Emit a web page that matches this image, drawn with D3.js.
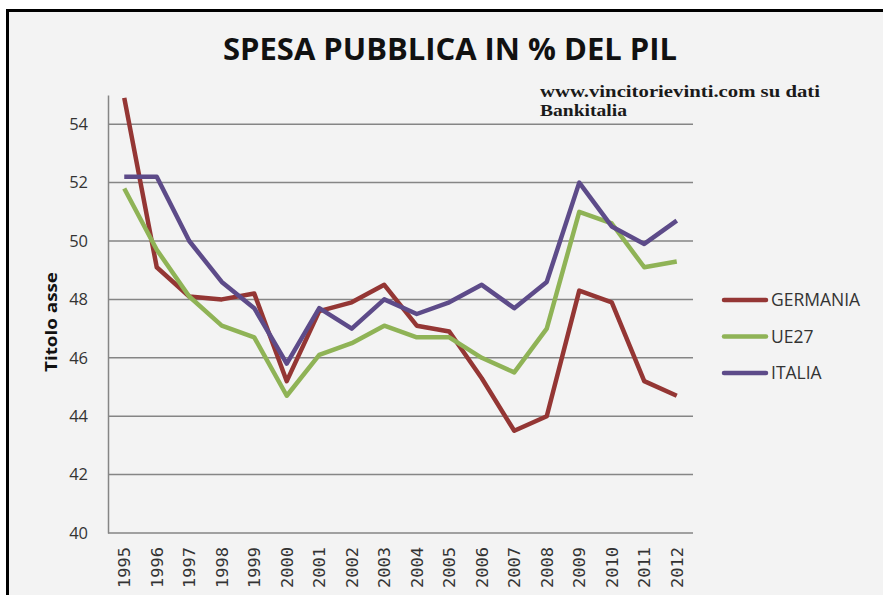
<!DOCTYPE html>
<html>
<head>
<meta charset="UTF-8">
<style>
body { margin: 0; background: #ffffff; }
svg { display: block; }
</style>
</head>
<body>
<script src="https://d3js.org/d3.v7.min.js"></script>
<script>

// data
var years = ['1995', '1996', '1997', '1998', '1999', '2000', '2001', '2002', '2003',
             '2004', '2005', '2006', '2007', '2008', '2009', '2010', '2011', '2012']
var germania = [54.9, 49.1, 48.1, 48.0, 48.2, 45.2, 47.6, 47.9, 48.5,
                47.1, 46.9, 45.3, 43.5, 44.0, 48.3, 47.9, 45.2, 44.7]
var ue27 = [51.8, 49.7, 48.1, 47.1, 46.7, 44.7, 46.1, 46.5, 47.1,
            46.7, 46.7, 46.0, 45.5, 47.0, 51.0, 50.6, 49.1, 49.3]
var italia = [52.2, 52.2, 50.0, 48.6, 47.7, 45.8, 47.7, 47.0, 48.0,
              47.5, 47.9, 48.5, 47.7, 48.6, 52.0, 50.5, 49.9, 50.7]
var seriesNames = ['GERMANIA', 'UE27', 'ITALIA']
var yTicks = [40, 42, 44, 46, 48, 50, 52, 54]

var colors = {'GERMANIA': '#943634', 'UE27': '#8fb356', 'ITALIA': '#5d4b89'}

var series = [
  {name: 'GERMANIA', values: germania},
  {name: 'UE27', values: ue27},
  {name: 'ITALIA', values: italia}
]

// canvas
var svgWidth = 883
    svgHeight = 595
    plot = {left: 108, right: 693, top: 95, bottom: 533}

var svg = d3.select('body').append('svg')
    .attr('width', svgWidth)
    .attr('height', svgHeight)

// panel background and frame
svg.append('rect')
    .attr('x', 7).attr('y', 11)
    .attr('width', svgWidth - 7).attr('height', svgHeight - 11)
    .attr('fill', '#f3f3f3')

svg.append('line')
    .attr('x1', 6).attr('x2', svgWidth).attr('y1', 10.5).attr('y2', 10.5)
    .attr('stroke', '#000').attr('stroke-width', 3)
svg.append('line')
    .attr('x1', 7.5).attr('x2', 7.5).attr('y1', 9).attr('y2', svgHeight)
    .attr('stroke', '#000').attr('stroke-width', 3)

// scales
var xScale = d3.scalePoint()
    .domain(years)
    .range([plot.left, plot.right])
    .padding(0.5)

var yScale = d3.scaleLinear()
    .domain([40, 55])
    .range([plot.bottom, plot.top])

// gridlines
svg.append('g')
    .selectAll('line')
    .data(yTicks)
    .enter().append('line')
      .attr('x1', plot.left).attr('x2', plot.right)
      .attr('y1', d => yScale(d)).attr('y2', d => yScale(d))
      .attr('stroke', '#858585')
      .attr('stroke-width', 1.5)

// y axis
var yAxis = d3.axisLeft(yScale)
    .tickValues(yTicks)
    .tickSize(0)
    .tickPadding(20)

var gy = svg.append('g')
    .attr('class', 'yAxis')
    .attr('transform', 'translate(' + plot.left + ', 0)')
    .call(yAxis)
gy.select('.domain').attr('stroke', '#858585').attr('stroke-width', 1.5)
gy.selectAll('text')
    .attr('font-family', 'Open Sans, sans-serif')
    .attr('font-size', 16.5)
    .attr('fill', '#333')

// x axis
var xAxis = d3.axisBottom(xScale).tickSize(0)

var gx = svg.append('g')
    .attr('class', 'xAxis')
    .attr('transform', 'translate(0, ' + plot.bottom + ')')
    .call(xAxis)
gx.select('.domain').remove()
gx.selectAll('text')
    .attr('font-family', 'DejaVu Sans Mono, monospace')
    .attr('font-size', 16)
    .attr('fill', '#333')
    .attr('text-anchor', 'end')
    .attr('dy', '0.35em')
    .attr('textLength', 41)
    .attr('lengthAdjust', 'spacingAndGlyphs')
    .attr('transform', 'translate(0, 14) rotate(-90)')
    .attr('x', 0).attr('y', 0)

// lines
var line = d3.line()
    .x((d, i) => xScale(years[i]))
    .y(d => yScale(d))

svg.append('g')
    .selectAll('path')
    .data(series)
    .enter().append('path')
      .attr('d', d => line(d.values))
      .attr('fill', 'none')
      .attr('stroke', d => colors[d.name])
      .attr('stroke-width', 4.5)
      .attr('stroke-linejoin', 'round')

// title
svg.append('text')
    .attr('x', 450).attr('y', 60)
    .attr('text-anchor', 'middle')
    .attr('font-family', 'Open Sans, sans-serif')
    .attr('font-weight', 'bold')
    .attr('font-size', 31)
    .attr('textLength', 454)
    .attr('lengthAdjust', 'spacingAndGlyphs')
    .attr('fill', '#111')
    .text('SPESA PUBBLICA IN % DEL PIL')

// source note
var note = svg.append('text')
    .attr('font-family', 'Liberation Serif, serif')
    .attr('font-weight', 'bold')
    .attr('font-size', 16)
    .attr('fill', '#1a1a1a')
note.append('tspan').attr('x', 540).attr('y', 97)
    .attr('textLength', 280).attr('lengthAdjust', 'spacingAndGlyphs')
    .text('www.vincitorievinti.com su dati')
note.append('tspan').attr('x', 540).attr('y', 116)
    .attr('textLength', 87).attr('lengthAdjust', 'spacingAndGlyphs')
    .text('Bankitalia')

// y axis title
svg.append('text')
    .attr('transform', 'translate(57, 322) rotate(-90)')
    .attr('text-anchor', 'middle')
    .attr('font-family', 'Open Sans, sans-serif')
    .attr('font-weight', 'bold')
    .attr('font-size', 16)
    .attr('textLength', 100)
    .attr('lengthAdjust', 'spacingAndGlyphs')
    .attr('fill', '#111')
    .text('Titolo asse')

// legend
var legendY = d3.scalePoint()
    .domain(seriesNames)
    .range([300, 373])

var legend = svg.append('g')
    .selectAll('g')
    .data(seriesNames)
    .enter().append('g')
      .attr('transform', d => 'translate(724, ' + legendY(d) + ')')

legend.append('line')
    .attr('x1', 0).attr('x2', 42)
    .attr('stroke', d => colors[d])
    .attr('stroke-width', 4.5)
    .attr('stroke-linecap', 'round')

legend.append('text')
    .attr('x', 47).attr('dy', '0.36em')
    .attr('font-family', 'Open Sans, sans-serif')
    .attr('font-size', 17.5)
    .attr('fill', '#333')
    .text(d => d)

</script>
</body>
</html>
